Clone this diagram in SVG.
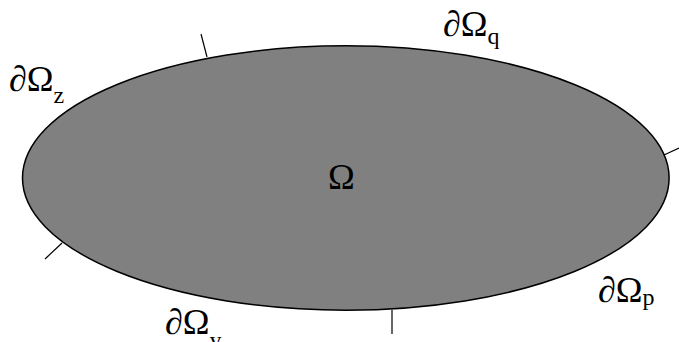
<svg xmlns="http://www.w3.org/2000/svg" width="679" height="342" viewBox="0 0 679 342">
<style>
.lbl{font-family:"Liberation Serif","Times New Roman",serif;font-size:36px;fill:#000}
.sub{font-size:24px}
.tick{stroke:#000;stroke-width:1.2;fill:none}
</style>
<rect width="679" height="342" fill="#fff"/>
<g id="domain">
<ellipse cx="345.8" cy="178" rx="323.3" ry="132.2" fill="#808080" stroke="#000" stroke-width="1.5"/>
<text class="lbl" x="328" y="189">Ω</text>
</g>
<g id="connectors">
<line class="tick" x1="207" y1="57" x2="201" y2="34"/>
<line class="tick" x1="664" y1="155" x2="679" y2="148"/>
<line class="tick" x1="392" y1="310" x2="392" y2="334" stroke="#666"/>
<line class="tick" x1="62" y1="243" x2="45" y2="259"/>
</g>
<g id="label-z"><text class="lbl" x="9" y="91">∂Ω<tspan class="sub" dy="12">z</tspan></text></g>
<g id="label-q"><text class="lbl" x="443" y="36">∂Ω<tspan class="sub" dy="8">q</tspan></text></g>
<g id="label-p"><text class="lbl" x="598" y="302">∂Ω<tspan class="sub" dy="3">p</tspan></text></g>
<g id="label-y"><text class="lbl" x="165" y="334">∂Ω<tspan class="sub" dy="14">y</tspan></text></g>
</svg>
